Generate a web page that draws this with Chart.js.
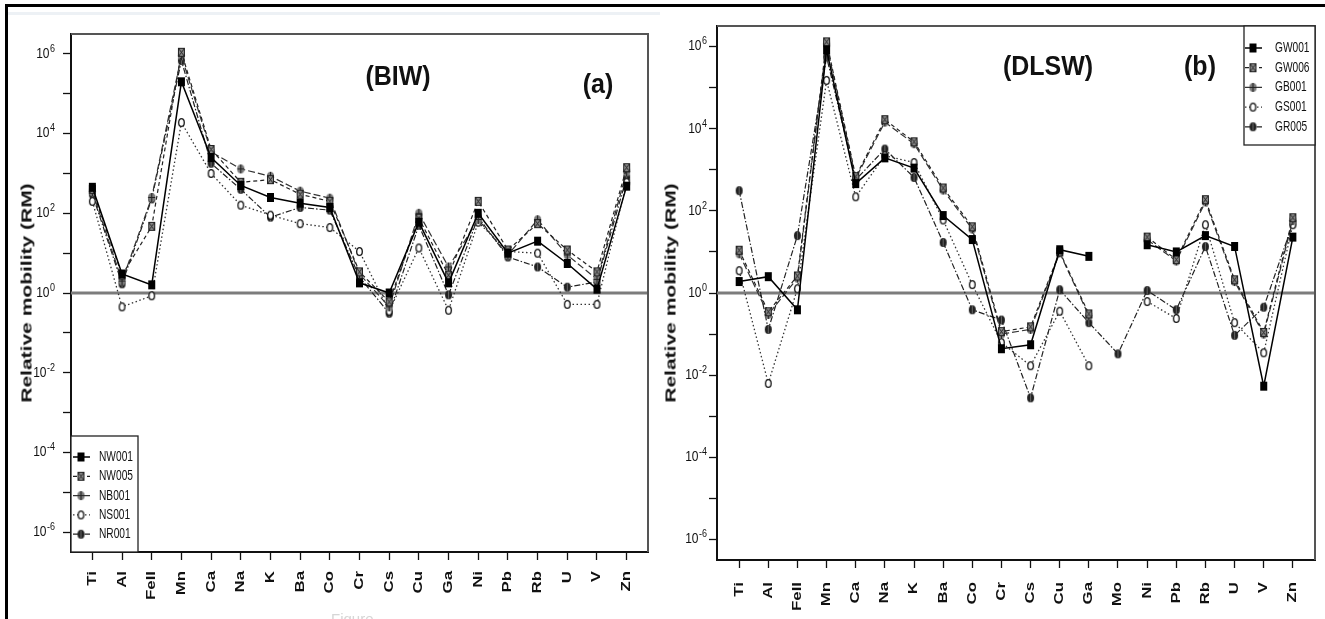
<!DOCTYPE html>
<html>
<head>
<meta charset="utf-8">
<script src="https://cdn.jsdelivr.net/npm/chart.js@4.4.0/dist/chart.umd.min.js"></script>
<style>
  body { margin: 0; width: 1325px; height: 619px; overflow: hidden; position: relative; background: #fff;
         font-family: "Liberation Sans", Arial, sans-serif; }
  canvas { position: absolute; top: 0; }
  #frameTop { position: absolute; left: 5px; top: 4px; width: 1320px; height: 3px; background: #000; }
  #frameLeft { position: absolute; left: 5px; top: 4px; width: 3px; height: 615px; background: #000; }
  #haze { position: absolute; left: 8px; top: 12px; width: 652px; height: 3px; background: #edf1f5; }
  .title { position: absolute; font-weight: bold; font-size: 25px; color: #111; transform: translate(-50%, -50%) scaleY(1.08); white-space: nowrap; }
  .ytitle { position: absolute; font-weight: bold; font-size: 15px; color: #111; white-space: nowrap;
            transform: translate(-50%, -50%) rotate(-90deg) scaleX(1.4); }
  #fig { position: absolute; left: 331px; top: 610px; font-size: 15px; color: #d6d6d6; }
</style>
</head>
<body>
<div id="frameTop"></div>
<div id="frameLeft"></div>
<div id="haze"></div>
<canvas id="chartA" width="660" height="619" style="left:0"></canvas>
<canvas id="chartB" width="665" height="619" style="left:660px"></canvas>
<div class="title" style="left:398px; top:76px">(BIW)</div>
<div class="title" style="left:598px; top:84px">(a)</div>
<div class="title" style="left:1048px; top:66px">(DLSW)</div>
<div class="title" style="left:1200px; top:66px">(b)</div>
<div class="ytitle" style="left:26px; top:293px">Relative mobility (RM)</div>
<div class="ytitle" style="left:670px; top:293px">Relative mobility (RM)</div>
<div id="fig">Figure</div>

<script>
// (a) BIW samples
const elementsA = ['Ti', 'Al', 'FeII', 'Mn', 'Ca', 'Na', 'K', 'Ba', 'Co', 'Cr', 'Cs', 'Cu', 'Ga', 'Ni', 'Pb', 'Rb', 'U', 'V', 'Zn'];
const namesA = ['NW001', 'NW005', 'NB001', 'NS001', 'NR001'];
const nw001 = [450, 3.0, 1.6, 2.0e5, 2500, 500, 250, 180, 140, 1.8, 1.0, 60, 1.8, 100, 10, 20, 5.5, 1.25, 480];
const nw005 = [400, 2.8, 47, 1.1e6, 4000, 600, 700, 300, 200, 3.4, 0.6, 75, 2.8, 200, 12, 55, 12, 3.4, 1400];
const nb001 = [350, 2.0, 250, 9.0e5, 3500, 1300, 850, 360, 240, 3.0, 0.45, 100, 4.5, 70, 9, 69, 9, 2.2, 1100];
const ns001 = [200, 0.45, 0.85, 1.9e4, 1000, 160, 90, 55, 44, 11, 0.35, 13.5, 0.37, 60, 11, 10, 0.52, 0.52, 600];
const nr001 = [300, 1.7, 230, 6.8e5, 1800, 400, 80, 140, 120, 2.5, 0.31, 50, 0.9, 80, 8, 4.5, 1.4, 1.9, 800];

// (b) DLSW samples, null = not measured
const elementsB = ['Ti', 'Al', 'FeII', 'Mn', 'Ca', 'Na', 'K', 'Ba', 'Co', 'Cr', 'Cs', 'Cu', 'Ga', 'Mo', 'Ni', 'Pb', 'Rb', 'U', 'V', 'Zn'];
const namesB = ['GW001', 'GW006', 'GB001', 'GS001', 'GR005'];
const gw001 = [1.9, 2.5, 0.39, 8.3e5, 460, 1950, 1100, 77, 20, 0.044, 0.055, 11.3, 7.8, null, 15, 10, 25, 13.6, 0.0054, 23];
const gw006 = [11, 0.35, 2.6, 1.3e6, 680, 1.66e4, 4800, 360, 41, 0.115, 0.15, 10, 0.31, null, 23, 6.5, 187, 2.1, 0.11, 68];
const gb001 = [9, 0.3, 2.3, 1.15e6, 620, 1.45e4, 4300, 320, 36, 0.1, 0.13, 9.5, 0.28, null, 20, 6, 165, 1.9, 0.1, 58];
const gs001 = [3.5, 0.0063, 1.27, 1.5e5, 220, 2200, 1500, 60, 1.6, 0.062, 0.017, 0.36, 0.017, null, 0.62, 0.24, 46, 0.19, 0.035, 46];
const gr005 = [310, 0.13, 25, 5.6e5, 570, 3200, 650, 17, 0.39, 0.22, 0.0028, 1.2, 0.19, 0.033, 1.15, 0.39, 13.5, 0.093, 0.45, 50];

// decades with a tick mark, labels on even ones
const decades = [-6, -5, -4, -3, -2, -1, 0, 1, 2, 3, 4, 5, 6];

const FONT = '"Liberation Sans", Arial, sans-serif';

// small symbol bitmaps used as point styles
function makeMarker(kind) {
    const c = document.createElement('canvas');
    c.width = 9; c.height = 11;
    const g = c.getContext('2d');
    g.lineWidth = 1;
    switch (kind) {
        case 'square':
            g.fillStyle = '#000';
            g.fillRect(1, 1, 7, 9);
            break;
        case 'xsquare':
            g.fillStyle = '#8a8a8a';
            g.fillRect(1, 1, 7, 9);
            g.strokeStyle = '#222';
            g.strokeRect(1.5, 1.5, 6, 8);
            g.beginPath();
            g.moveTo(1.5, 1.5); g.lineTo(7.5, 9.5);
            g.moveTo(7.5, 1.5); g.lineTo(1.5, 9.5);
            g.stroke();
            break;
        case 'oplus':
            g.fillStyle = '#7a7a7a';
            g.beginPath(); g.ellipse(4.5, 5.5, 3.6, 4.5, 0, 0, Math.PI * 2); g.fill();
            g.strokeStyle = '#222';
            g.beginPath();
            g.moveTo(4.5, 1); g.lineTo(4.5, 10);
            g.moveTo(1, 5.5); g.lineTo(8, 5.5);
            g.stroke();
            break;
        case 'circle':
            g.fillStyle = '#fff';
            g.strokeStyle = '#111';
            g.lineWidth = 1.3;
            g.beginPath(); g.ellipse(4.5, 5.5, 2.8, 3.9, 0, 0, Math.PI * 2); g.fill(); g.stroke();
            break;
        default:
            g.fillStyle = '#222';
            g.beginPath(); g.ellipse(4.5, 5.5, 3.5, 4.5, 0, 0, Math.PI * 2); g.fill();
            g.strokeStyle = '#666';
            g.beginPath(); g.moveTo(4.5, 1.5); g.lineTo(4.5, 9.5); g.stroke();
    }
    return c;
}

const seriesLook = [
    { dash: [], marker: 'square', color: '#000', width: 1.5 },
    { dash: [4, 3], marker: 'xsquare', color: '#222', width: 1.2 },
    { dash: [7, 3], marker: 'oplus', color: '#333', width: 1.2 },
    { dash: [1.5, 2.5], marker: 'circle', color: '#333', width: 1.3 },
    { dash: [6, 2, 1.5, 2], marker: 'dot', color: '#222', width: 1.2 }
];

function buildDatasets(names, values) {
    return names.map((name, k) => {
        const look = seriesLook[k];
        return {
            label: name,
            data: values[k].map((v, i) => ({ x: i, y: v })),
            borderColor: look.color,
            borderWidth: look.width,
            borderDash: look.dash,
            pointStyle: makeMarker(look.marker),
            pointRadius: 4,
            spanGaps: false,
            fill: false,
            tension: 0
        };
    });
}

function drawStretched(ctx, text, x, y, sx, sy) {
    ctx.save();
    ctx.translate(x, y);
    ctx.scale(sx, sy);
    ctx.fillText(text, 0, 0);
    ctx.restore();
}

// reference line at RM = 1, box, axis labels, legend
function makeDecor(cats, cfg) {
    return {
        id: 'panelDecor',
        beforeDatasetsDraw(chart) {
            const { ctx, chartArea: a, scales: { y } } = chart;
            const yy = y.getPixelForValue(1);
            ctx.save();
            ctx.strokeStyle = '#7c7c7c';
            ctx.lineWidth = 3;
            ctx.beginPath(); ctx.moveTo(a.left, yy); ctx.lineTo(a.right, yy); ctx.stroke();
            ctx.restore();
        },
        afterDraw(chart) {
            const { ctx, chartArea: a, scales: { x, y } } = chart;
            ctx.save();

            ctx.strokeStyle = '#555';
            ctx.lineWidth = 2;
            ctx.beginPath();
            ctx.moveTo(a.left, a.top); ctx.lineTo(a.right, a.top); ctx.lineTo(a.right, a.bottom);
            ctx.stroke();

            // element names, rotated
            ctx.fillStyle = '#111';
            ctx.font = 'bold 12px ' + FONT;
            ctx.textAlign = 'right';
            ctx.textBaseline = 'middle';
            cats.forEach((c, i) => {
                ctx.save();
                ctx.translate(x.getPixelForValue(i), a.bottom + cfg.xLabelGap);
                ctx.rotate(-Math.PI / 2);
                ctx.scale(1.4, 1.05);
                ctx.fillText(c, 0, 0);
                ctx.restore();
            });

            // 10^n labels
            y.ticks.forEach(t => {
                const e = Math.round(Math.log10(t.value));
                if (e % 2 !== 0) return;
                const py = y.getPixelForValue(t.value);
                const xr = a.left - cfg.yLabelGap;
                ctx.textAlign = 'right';
                ctx.font = '9px ' + FONT;
                const sup = String(e);
                const ws = ctx.measureText(sup).width;
                drawStretched(ctx, sup, xr, py - 5, 1, 1.15);
                ctx.font = '12px ' + FONT;
                drawStretched(ctx, '10', xr - ws - 0.5, py, 1, 1.15);
            });

            // legend
            const L = cfg.legend;
            ctx.fillStyle = '#fff';
            ctx.fillRect(L.x0, L.y0, L.x1 - L.x0, L.y1 - L.y0);
            ctx.strokeStyle = '#222';
            ctx.lineWidth = 1.3;
            ctx.strokeRect(L.x0, L.y0, L.x1 - L.x0, L.y1 - L.y0);
            chart.data.datasets.forEach((ds, i) => {
                const yy = L.row0 + i * L.step;
                ctx.save();
                ctx.strokeStyle = ds.borderColor;
                ctx.lineWidth = ds.borderWidth;
                ctx.setLineDash(ds.borderDash);
                ctx.beginPath(); ctx.moveTo(L.lx0, yy); ctx.lineTo(L.lx1, yy); ctx.stroke();
                ctx.restore();
                const m = ds.pointStyle;
                ctx.drawImage(m, L.mx - m.width / 2, yy - m.height / 2);
                ctx.fillStyle = '#111';
                ctx.font = '10.5px ' + FONT;
                ctx.textAlign = 'left';
                ctx.textBaseline = 'middle';
                drawStretched(ctx, ds.label, L.tx, yy, 0.97, 1.4);
            });
            ctx.restore();
        }
    };
}

function buildChart(canvasId, cats, names, values, cfg) {
    const axisGrid = { drawOnChartArea: false, drawTicks: true, tickLength: 8, tickColor: '#111', tickWidth: 1.3 };
    return new Chart(document.getElementById(canvasId), {
        type: 'line',
        data: { datasets: buildDatasets(names, values) },
        options: {
            responsive: false,
            animation: false,
            events: [],
            layout: { padding: { left: 0, right: cfg.padRight, top: cfg.top, bottom: 0 } },
            plugins: { legend: { display: false }, tooltip: { enabled: false } },
            scales: {
                x: {
                    type: 'linear',
                    min: -cfg.ext,
                    max: cats.length - 1 + cfg.ext,
                    afterBuildTicks: s => { s.ticks = cats.map((c, i) => ({ value: i })); },
                    afterFit: s => { s.height = cfg.xAxisH; },
                    ticks: { display: false },
                    grid: axisGrid,
                    border: { color: '#111', width: 2 }
                },
                y: {
                    type: 'logarithmic',
                    min: Math.pow(10, -6.5),
                    max: Math.pow(10, 6.5),
                    afterBuildTicks: s => { s.ticks = decades.map(e => ({ value: Math.pow(10, e) })); },
                    afterFit: s => { s.width = cfg.yAxisW; },
                    ticks: { display: false },
                    grid: axisGrid,
                    border: { color: '#111', width: 2 }
                }
            }
        },
        plugins: [makeDecor(cats, cfg)]
    });
}

buildChart('chartA', elementsA, namesA, [nw001, nw005, nb001, ns001, nr001], {
    top: 34, padRight: 12, yAxisW: 71, xAxisH: 67, ext: 0.72, xLabelGap: 19, yLabelGap: 16,
    legend: { x0: 71, y0: 436, x1: 138, y1: 552, row0: 457, step: 19.3, lx0: 73, lx1: 90, mx: 81, tx: 99 }
});

buildChart('chartB', elementsB, namesB, [gw001, gw006, gb001, gs001, gr005], {
    top: 26, padRight: 10, yAxisW: 57, xAxisH: 59, ext: 0.76, xLabelGap: 22, yLabelGap: 10,
    legend: { x0: 584, y0: 26, x1: 655, y1: 145, row0: 48, step: 19.7, lx0: 585, lx1: 602, mx: 593, tx: 615 }
});
</script>
</body>
</html>
